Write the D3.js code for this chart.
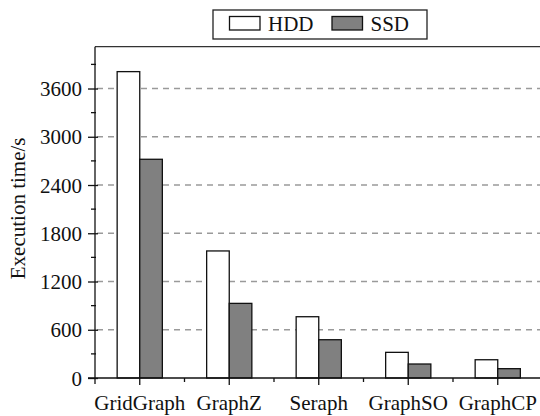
<!DOCTYPE html>
<html>
<head>
<meta charset="utf-8">
<script src="https://cdn.jsdelivr.net/npm/d3@7"></script>
<style>
  html, body { margin: 0; padding: 0; background: #fff; }
  svg { display: block; }
  svg text { font-family: "Liberation Serif", "Times New Roman", serif; }
</style>
</head>
<body>
<svg id="chart" width="540" height="416"></svg>
<script>
// Execution time (seconds) of each system on HDD and SSD storage
const systems = ["GridGraph", "GraphZ", "Seraph", "GraphSO", "GraphCP"];
const seriesNames = ["HDD", "SSD"];
const hddTimes = [3810, 1580, 762, 319, 227];
const ssdTimes = [2720, 928, 476, 174, 116];
const yTicks = [0, 600, 1200, 1800, 2400, 3000, 3600];
const yLabel = "Execution time/s";

const seriesFill = { HDD: "#ffffff", SSD: "#808080" };
const seriesValues = { HDD: hddTimes, SSD: ssdTimes };
const serif = "Liberation Serif, Times New Roman, serif";

const svg = d3.select("#chart");
const plotLeft = 95, plotRight = 542.5, plotTop = 46.7, plotBottom = 378;

const x = d3.scaleBand().domain(systems).range([plotLeft, plotRight])
  .paddingInner(0.495).paddingOuter(0.2475);
const xs = d3.scaleBand().domain(seriesNames).range([0, x.bandwidth()]);
const y = d3.scaleLinear().domain([0, 4120]).range([plotBottom, plotTop]);

// dashed horizontal gridlines
svg.append("g").selectAll("line")
  .data(yTicks.filter(t => t > 0))
  .join("line")
  .attr("x1", plotLeft + 2).attr("x2", 540)
  .attr("y1", d => y(d)).attr("y2", d => y(d))
  .attr("stroke", "#9a9a9a").attr("stroke-width", 1.5)
  .attr("stroke-dasharray", "6,5");

// top frame line
svg.append("line")
  .attr("x1", plotLeft).attr("x2", 540).attr("y1", plotTop).attr("y2", plotTop)
  .attr("stroke", "#333").attr("stroke-width", 1.3);

// bars
const rows = [];
systems.forEach((s, i) => seriesNames.forEach(n => rows.push({ system: s, series: n, value: seriesValues[n][i] })));
svg.append("g").selectAll("rect")
  .data(rows)
  .join("rect")
  .attr("x", d => x(d.system) + xs(d.series))
  .attr("width", xs.bandwidth())
  .attr("y", d => y(d.value))
  .attr("height", d => y(0) - y(d.value))
  .attr("fill", d => seriesFill[d.series])
  .attr("stroke", "#111").attr("stroke-width", 1.3);

// y axis with minor ticks
const yAxis = d3.axisLeft(y).tickValues(yTicks).tickFormat(d3.format("d"))
  .tickSize(7).tickPadding(6).tickSizeOuter(0);
const gy = svg.append("g").attr("transform", `translate(${plotLeft},0)`).call(yAxis)
  .attr("font-family", serif).attr("font-size", 21);
gy.select(".domain").attr("stroke", "#111").attr("stroke-width", 1.3)
  .attr("d", `M0,${plotBottom + 6}V${plotTop}`);
gy.selectAll(".tick line").attr("stroke", "#111").attr("stroke-width", 1.3).attr("x2", -7).attr("x1", 3);
gy.selectAll(".tick text").attr("fill", "#111").attr("dy", "0.34em");
const minorY = d3.range(300, 4100, 600);
gy.append("g").selectAll("line").data(minorY).join("line")
  .attr("x1", -4).attr("x2", 1).attr("y1", d => y(d)).attr("y2", d => y(d))
  .attr("stroke", "#111").attr("stroke-width", 1.3);

// x axis: major ticks at category centres, minor ticks between categories
const gx = svg.append("g").attr("transform", `translate(0,${plotBottom})`);
gx.append("line").attr("x1", plotLeft - 7).attr("x2", 540).attr("y1", 0).attr("y2", 0)
  .attr("stroke", "#111").attr("stroke-width", 1.3);
gx.selectAll("line.major").data(systems).join("line").attr("class", "major")
  .attr("x1", d => x(d) + x.bandwidth() / 2).attr("x2", d => x(d) + x.bandwidth() / 2)
  .attr("y1", 0).attr("y2", 7).attr("stroke", "#111").attr("stroke-width", 1.3);
gx.selectAll("line.minor").data(systems.slice(1)).join("line").attr("class", "minor")
  .attr("x1", d => x(d) - x.step() * x.paddingInner() / 2)
  .attr("x2", d => x(d) - x.step() * x.paddingInner() / 2)
  .attr("y1", 0).attr("y2", 4).attr("stroke", "#111").attr("stroke-width", 1.3);
gx.selectAll("text").data(systems).join("text")
  .attr("x", d => x(d) + x.bandwidth() / 2).attr("y", 32)
  .attr("text-anchor", "middle").attr("font-size", 21).attr("fill", "#111")
  .attr("font-family", serif)
  .text(d => d);

// y axis title
svg.append("text")
  .attr("transform", `translate(25,${(plotTop + plotBottom) / 2 - 4}) rotate(-90)`)
  .attr("text-anchor", "middle").attr("font-size", 21).attr("fill", "#111")
  .attr("font-family", serif)
  .text(yLabel);

// legend
const lg = svg.append("g");
lg.append("rect").attr("x", 213).attr("y", 10).attr("width", 214).attr("height", 29)
  .attr("fill", "#fff").attr("stroke", "#222").attr("stroke-width", 1.3);
const legendX = { HDD: 229.5, SSD: 332 };
seriesNames.forEach(n => {
  lg.append("rect").attr("x", legendX[n]).attr("y", 16.5).attr("width", 30.5).attr("height", 13.5)
    .attr("fill", seriesFill[n]).attr("stroke", "#111").attr("stroke-width", 1.3);
  lg.append("text").attr("x", legendX[n] + 38.5).attr("y", 31)
    .attr("font-size", 21).attr("fill", "#111").attr("font-family", serif).text(n);
});
</script>
</body>
</html>
